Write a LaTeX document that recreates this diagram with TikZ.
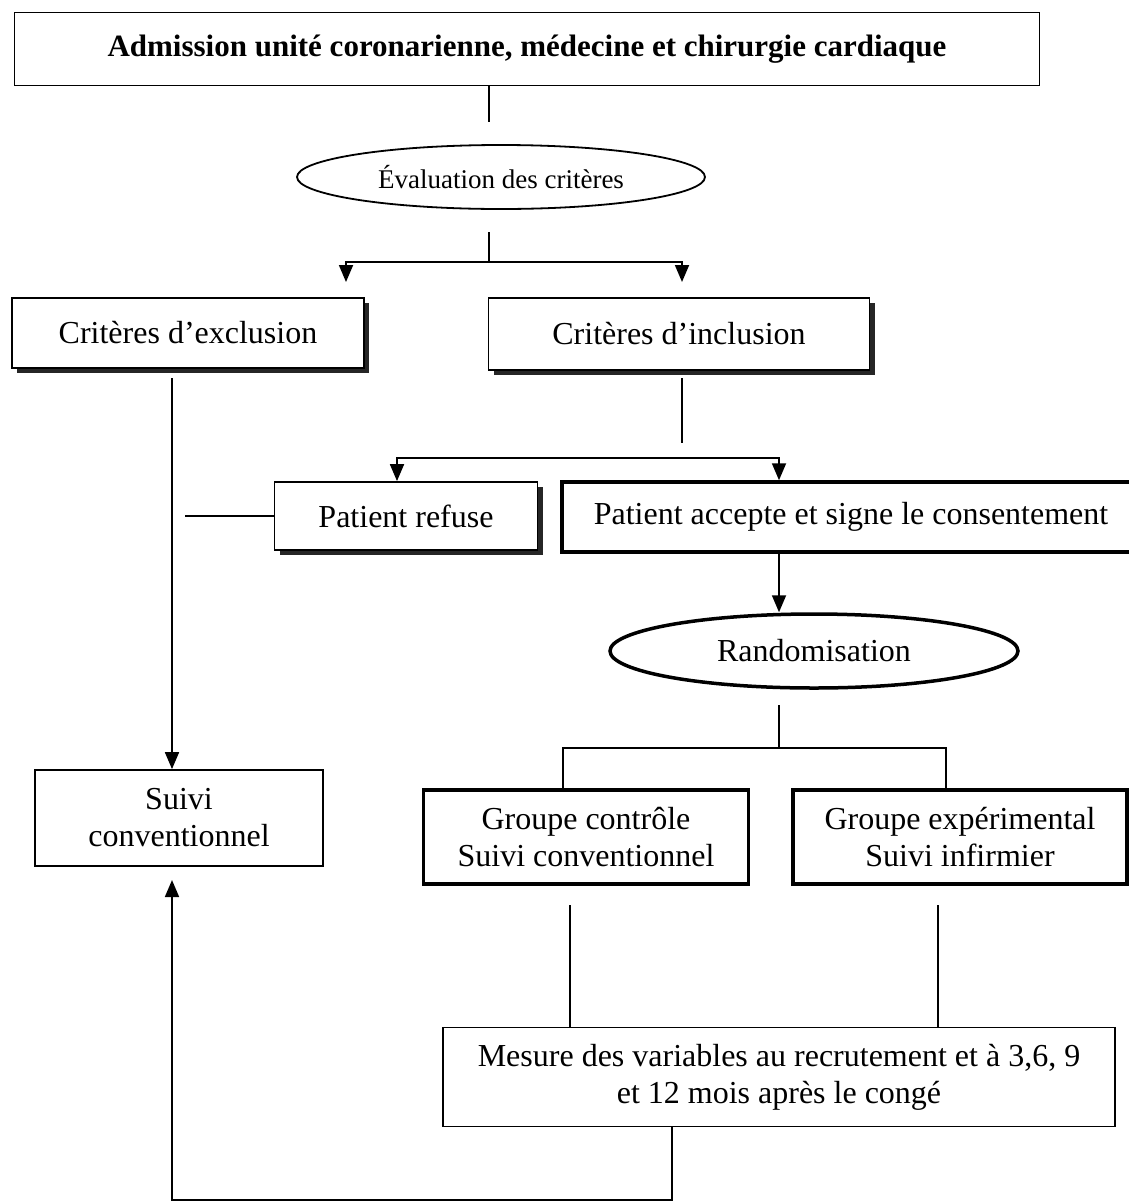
\documentclass[tikz,border=0pt]{standalone}
\usepackage{fontspec}
\setmainfont{Liberation Serif}
\usetikzlibrary{arrows.meta,shapes.geometric,shadows}
\begin{document}
\begin{tikzpicture}[x=1pt,y=-1pt,
  every node/.style={font=\fontsize{32}{37}\selectfont, align=center, inner sep=0pt},
  thinbox/.style={draw, rectangle, line width=1.8pt, fill=white},
  thickbox/.style={draw, rectangle, line width=3.5pt, fill=white},
  shadowbox/.style={thinbox, drop shadow={shadow xshift=5pt, shadow yshift=-5pt, fill=black!85, opacity=1}},
  oval/.style={draw, ellipse, fill=white},
  link/.style={line width=1.8pt},
  arr/.style={link, -{Triangle[width=14pt,length=17pt]}}]

\useasboundingbox (0,0) rectangle (1129,1203);

% boxes and ovals
\node[thinbox, minimum width=1025pt, minimum height=73pt,
      font=\bfseries\fontsize{31}{36}\selectfont] (top) at (527,49)
  {Admission unité coronarienne, médecine et chirurgie cardiaque};
\node[oval, line width=1.8pt, minimum width=408pt, minimum height=64pt,
      font=\fontsize{27}{32}\selectfont] (eval) at (501,177) {Évaluation des critères};
\node[shadowbox, minimum width=352pt, minimum height=70pt] (excl) at (188,333) {Critères d’exclusion};
\node[shadowbox, minimum width=381pt, minimum height=72pt] (incl) at (679,334) {Critères d’inclusion};
\node[shadowbox, minimum width=263pt, minimum height=68pt] (refuse) at (406,516) {Patient refuse};
\node[thickbox, minimum width=578pt, minimum height=70pt] (accepte) at (851,517)
  {Patient accepte et signe le consentement};
\node[oval, line width=3.5pt, minimum width=408pt, minimum height=74pt] (rand) at (814,651) {Randomisation};
\node[thinbox, minimum width=288pt, minimum height=96pt] (suivi) at (179,818) {Suivi\\conventionnel};
\node[thickbox, minimum width=325pt, minimum height=94pt] (ctrl) at (586,837)
  {Groupe contrôle\\Suivi conventionnel};
\node[thickbox, minimum width=334pt, minimum height=94pt] (exp) at (960,837)
  {Groupe expérimental\\Suivi infirmier};
\node[thinbox, minimum width=672pt, minimum height=99pt] (mesure) at (779,1077)
  {Mesure des variables au recrutement et à 3,6, 9\\et 12 mois après le congé};

% connector anchors
\coordinate (t1) at (489,122);
\coordinate (e1) at (489,232);
\coordinate (j1) at (489,262);
\coordinate (al) at (346,282);
\coordinate (ar) at (682,282);
\coordinate (vx) at (172,378);
\coordinate (i1) at (682,378);
\coordinate (i2) at (682,443);
\coordinate (h1) at (397,458);
\coordinate (h2) at (779,458);
\coordinate (r1) at (185,516);
\coordinate (a1) at (779,0);
\coordinate (q1) at (779,705);
\coordinate (q2) at (779,748);
\coordinate (ql) at (563,748);
\coordinate (qr) at (946,748);
\coordinate (c1) at (570,905);
\coordinate (c2) at (938,905);
\coordinate (b1) at (672,1200);
\coordinate (b2) at (172,1200);
\coordinate (b3) at (172,880);

% connectors
\draw[link] (top.south -| t1) -- (t1);
\draw[link] (e1) -- (j1);
\draw[arr] (j1) -| (al);
\draw[arr] (j1) -| (ar);
\draw[arr] (vx) -- (suivi.north -| vx);
\draw[link] (i1) -- (i2);
\draw[arr] (h2) -| (refuse.north -| h1);
\draw[arr] (h1) -| (accepte.north -| h2);
\draw[link] (refuse.west) -- (r1);
\draw[arr] (accepte.south -| a1) -- (rand.north -| a1);
\draw[link] (q1) -- (q2);
\draw[link] (qr) -| (ctrl.north -| ql);
\draw[link] (ql) -| (exp.north -| qr);
\draw[link] (c1) -- (mesure.north -| c1);
\draw[link] (c2) -- (mesure.north -| c2);
\draw[arr] (mesure.south -| b1) -- (b1) -- (b2) -- (b3);
\end{tikzpicture}
\end{document}
